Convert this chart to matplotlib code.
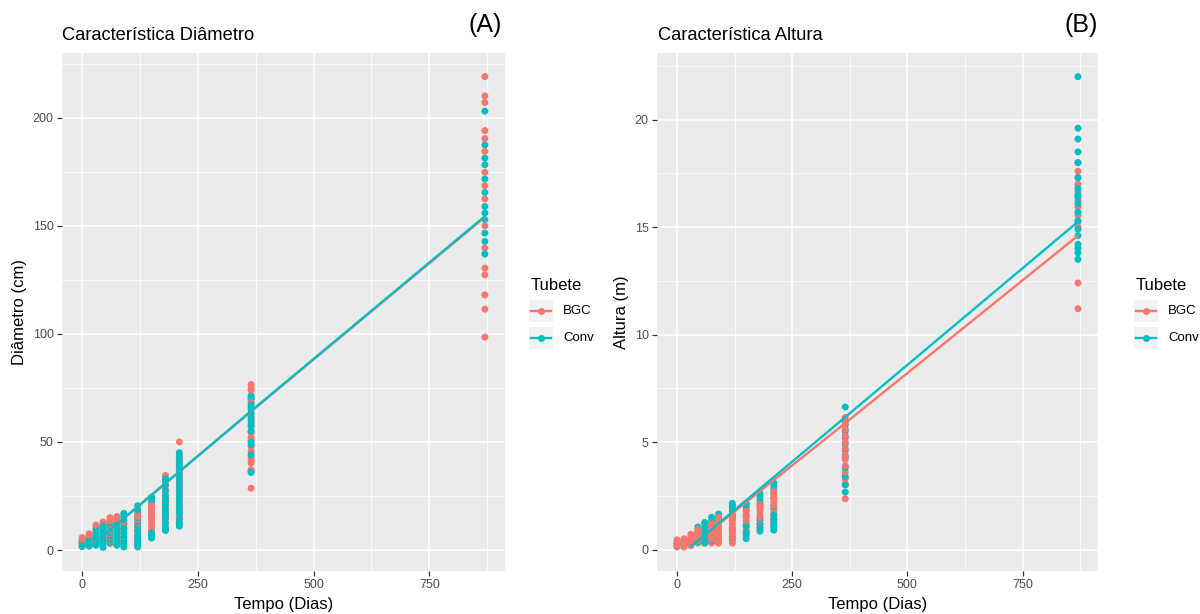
import matplotlib
matplotlib.use("Agg")
import matplotlib.pyplot as plt
from matplotlib.lines import Line2D
from matplotlib.patches import Rectangle
from matplotlib.ticker import MultipleLocator
from itertools import zip_longest

plt.rcParams['font.family'] = ['Liberation Sans', 'DejaVu Sans']

# ---------------- data ----------------
days = [0, 15, 30, 45, 60, 75, 90, 120, 150, 180, 210, 365, 870]

# Panel A : Diameter (cm)
diam_bgc = [
    [1.8, 2.6, 3.4, 4.2, 5.0, 5.8],
    [2, 3, 4, 5, 6, 7, 7.5],
    [3, 4.5, 6, 7.5, 9, 10.5, 11.5],
    [4, 5.5, 7, 8.5, 10, 11.5, 13],
    [3, 4.5, 6, 7.5, 9, 10.5, 12, 13.5, 15],
    [2.5, 4, 5.5, 7, 8.5, 10, 11.5, 13, 14.5, 15.5],
    [3, 4.5, 6, 7.5, 9, 10.5, 12, 13],
    [2, 3.5, 5, 6.5, 8, 9.5, 11, 12.5, 14, 15.5, 16.5],
    [7.5, 9, 10.5, 12, 13.5, 15, 16.5, 18, 19.5, 20.5],
    [10, 12, 14, 16, 18, 20, 22, 24, 26, 28, 30, 32, 34.5],
    [12, 14, 16, 18, 20, 22, 24, 26, 28, 30, 32, 34, 36, 38, 40, 42, 44, 50],
    [76.6, 75, 74, 68.4, 62, 60.3, 58, 54.2, 52, 50.7, 48, 45.6, 43, 41.5, 40.2, 37.1, 28.6],
    [219, 210, 207, 194, 190.3, 184.4, 174.7, 168.5, 162.4, 150, 139.7, 130.4, 127.3, 118, 111.4, 98.5],
]
diam_conv = [
    [1.6, 2.4, 3.2, 4.0],
    [1.8, 2.8, 3.8, 4.8, 5.8],
    [2.2, 3.5, 5, 6.5, 8, 9.5],
    [1.2, 2.5, 4, 5.5, 7, 8.5, 10, 11],
    [3.5, 5, 6.5, 8, 9.5, 11, 12.5],
    [2.2, 3.5, 5, 6.5, 8, 9.5, 11, 12],
    [1.4, 2.8, 4.2, 6, 8, 10, 12, 14, 15.5, 17],
    [1.4, 2.6, 4, 5.5, 7, 9, 11, 13, 15, 17, 18.5, 20.5],
    [5.5, 6.5, 8, 14, 16, 18, 20, 22, 23.5, 24.5],
    [9, 10.5, 12.5, 15, 17, 19, 21, 23, 25, 27.5, 30, 32, 33],
    [11, 12.5, 14.5, 17, 19, 21, 23, 25, 27, 29, 31, 33, 35, 37, 39, 41, 43, 45],
    [71.5, 70.5, 69.9, 67.3, 66, 65, 63.4, 61, 59, 57.2, 55, 50, 48.7, 44, 36.5, 35.9],
    [203, 187.4, 181.3, 178.2, 171.6, 165.4, 158.9, 155.9, 152.8, 146.6, 142.7, 136.9],
]

# Panel B : Height (m)
alt_bgc = [
    [0.12, 0.2, 0.28, 0.36, 0.45],
    [0.12, 0.2, 0.3, 0.4, 0.5],
    [0.18, 0.28, 0.38, 0.48, 0.58, 0.7],
    [0.3, 0.4, 0.5, 0.6, 0.7, 0.8, 0.95],
    [0.3, 0.45, 0.6, 0.75],
    [0.3, 0.45, 0.6, 0.75, 0.9, 1.05, 1.2],
    [0.3, 0.45, 0.6, 0.75, 0.9, 1.05, 1.2, 1.35, 1.5],
    [0.3, 0.45, 0.6, 0.75, 0.9, 1.05, 1.2, 1.35, 1.5, 1.65],
    [0.75, 0.9, 1.05, 1.2, 1.35, 1.5, 1.65, 1.8],
    [0.9, 1.05, 1.2, 1.35, 1.5, 1.65, 1.8, 1.95, 2.1],
    [1.15, 1.3, 1.45, 1.6, 1.75, 1.9, 2.05, 2.2, 2.35, 2.5, 2.7],
    [2.36, 3.05, 3.3, 3.6, 3.9, 4.2, 4.4, 4.7, 5.0, 5.3, 5.6, 5.9, 6.14],
    [18.0, 17.6, 17.3, 17.0, 16.65, 16.26, 15.95, 15.56, 15.25, 15.0, 12.4, 11.2],
]
alt_conv = [
    [0.18, 0.3],
    [0.25, 0.4],
    [0.25, 0.4, 0.55],
    [0.35, 0.5, 0.65, 0.85, 1.05],
    [0.3, 0.45, 0.6, 0.75, 0.9, 1.05, 1.2, 1.26],
    [0.4, 0.6, 0.8, 1.0, 1.2, 1.35, 1.5],
    [0.5, 0.9, 1.3, 1.5, 1.65],
    [0.45, 0.6, 0.8, 0.95, 1.4, 1.6, 1.8, 1.95, 2.05, 2.15],
    [0.5, 0.65, 0.8, 1.1, 1.6, 1.8, 1.95, 2.1, 2.15],
    [0.85, 1.0, 1.2, 1.4, 2.0, 2.15, 2.3, 2.45, 2.6],
    [0.9, 1.05, 1.2, 1.4, 1.6, 2.0, 2.4, 2.6, 2.8, 2.95, 3.1],
    [2.67, 3.0, 3.4, 3.8, 4.3, 4.6, 4.9, 5.2, 5.5, 5.8, 6.0, 6.63],
    [22.0, 19.6, 19.1, 18.5, 18.0, 17.3, 16.5, 16.8, 16.4, 16.1, 15.7, 15.3, 14.9, 14.6, 14.2, 14.0, 13.8, 13.5],
]

# fitted lines
line_days_a = [15, 30, 45, 60, 75, 90, 120, 150, 180, 210, 365, 870]
line_a_bgc = [1.1, 3.8, 6.5, 9.2, 11.9, 14.6, 20.0, 25.4, 30.8, 36.2, 64.1, 154.0]
line_a_conv = [1.2, 3.9, 6.6, 9.3, 12.0, 14.7, 20.1, 25.5, 30.9, 36.3, 64.3, 154.4]

line_days_b = [30, 45, 60, 75, 90, 120, 150, 180, 210, 365, 870]
line_b_bgc = [0.14, 0.40, 0.65, 0.91, 1.17, 1.69, 2.20, 2.72, 3.23, 5.88, 14.6]
line_b_conv = [0.13, 0.40, 0.67, 0.94, 1.21, 1.75, 2.29, 2.83, 3.37, 6.16, 15.25]

groups = ["BGC", "Conv"]
colors = {"BGC": "#F8766D", "Conv": "#00BFC4"}

# ---------------- figure ----------------
W, H = 1200, 614
fig = plt.figure(figsize=(W / 100, H / 100), dpi=100)


def fx(px):
    return px / W


def fy(py):
    return 1 - py / H


def style_axis(ax, xlim, ylim, xmaj, xmin, ymaj, ymin):
    ax.set_facecolor("#EBEBEB")
    for s in ax.spines.values():
        s.set_visible(False)
    ax.set_xlim(*xlim)
    ax.set_ylim(*ylim)
    ax.xaxis.set_major_locator(MultipleLocator(xmaj))
    ax.xaxis.set_minor_locator(MultipleLocator(xmin))
    ax.yaxis.set_major_locator(MultipleLocator(ymaj))
    ax.yaxis.set_minor_locator(MultipleLocator(ymin))
    ax.grid(which="major", color="white", lw=1.1)
    ax.grid(which="minor", color="white", lw=0.55)
    ax.set_axisbelow(True)
    ax.tick_params(which="major", length=3.5, width=0.9, color="#333333",
                   labelsize=9, labelcolor="#4D4D4D", pad=2.5)
    ax.tick_params(which="minor", length=0)


def draw_panel(ax, ptsb, ptsc, ldays, lb, lc):
    xs, ys, cs = [], [], []
    for d, vb, vc in zip(days, ptsb, ptsc):
        # interleave the two groups so that the drawing order is mixed
        for b, c in zip_longest(vb, vc):
            if b is not None:
                xs.append(d); ys.append(b); cs.append(colors["BGC"])
            if c is not None:
                xs.append(d); ys.append(c); cs.append(colors["Conv"])
    ax.scatter(xs, ys, s=25, c=cs, lw=0, zorder=3)
    ax.plot(ldays, lb, color=colors["BGC"], lw=1.7, zorder=4, solid_capstyle="butt")
    ax.plot(ldays, lc, color=colors["Conv"], lw=1.7, zorder=5, solid_capstyle="butt")


# Panel A
axA = fig.add_axes([fx(62), fy(571), fx(505) - fx(62), fy(53) - fy(571)])
style_axis(axA, (-43.5, 913.5), (-9.7, 229.9), 250, 125, 50, 25)
draw_panel(axA, diam_bgc, diam_conv, line_days_a, line_a_bgc, line_a_conv)
axA.set_xlabel("Tempo (Dias)", fontsize=12, labelpad=4)
axA.set_ylabel("Diâmetro (cm)", fontsize=12, labelpad=4)

# Panel B
axB = fig.add_axes([fx(657), fy(571), fx(1098) - fx(657), fy(53) - fy(571)])
style_axis(axB, (-43.5, 913.5), (-1.0, 23.1), 250, 125, 5, 2.5)
draw_panel(axB, alt_bgc, alt_conv, line_days_b, line_b_bgc, line_b_conv)
axB.set_xlabel("Tempo (Dias)", fontsize=12, labelpad=4)
axB.set_ylabel("Altura (m)", fontsize=12, labelpad=4)

# Titles
fig.text(fx(62), fy(35), "Característica Diâmetro", fontsize=13.2, va="center", ha="left")
fig.text(fx(485), fy(25), "(A)", fontsize=18, va="center", ha="center")
fig.text(fx(658), fy(35), "Característica Altura", fontsize=13.2, va="center", ha="left")
fig.text(fx(1081), fy(25), "(B)", fontsize=18, va="center", ha="center")


# Legends
def legend(x0):
    fig.text(fx(x0 + 2), fy(286), "Tubete", fontsize=12, va="center", ha="left")
    for i, g in enumerate(groups):
        cy = 311 + i * 27
        fig.patches.append(Rectangle((fx(x0), fy(cy + 11)), fx(24), 22 / H,
                                     transform=fig.transFigure, color="#F2F2F2", lw=0))
        fig.lines.append(Line2D([fx(x0 + 2), fx(x0 + 22)], [fy(cy), fy(cy)],
                                transform=fig.transFigure, color=colors[g], lw=1.7))
        fig.lines.append(Line2D([fx(x0 + 12)], [fy(cy)], transform=fig.transFigure,
                                color=colors[g], marker="o", ms=5, mew=0, ls="none"))
        fig.text(fx(x0 + 34), fy(cy), g, fontsize=9.5, va="center", ha="left")


legend(529)
legend(1134)

fig.savefig("out.png", dpi=100)
